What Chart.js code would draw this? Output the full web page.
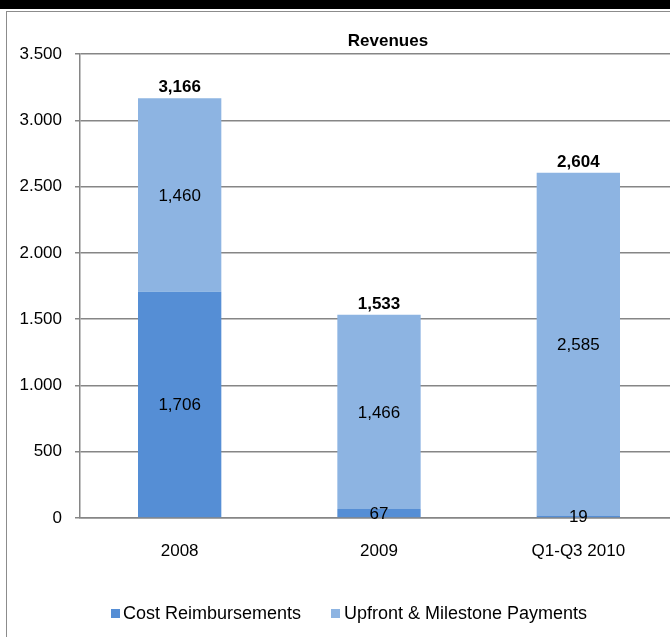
<!DOCTYPE html>
<html>
<head>
<meta charset="utf-8">
<title>Revenues</title>
<script src="https://cdn.jsdelivr.net/npm/chart.js@4/dist/chart.umd.min.js"></script>
<style>
  html, body {
    margin: 0;
    padding: 0;
    width: 670px;
    height: 637px;
    overflow: hidden;
    background: #fff;
    font-family: "Liberation Sans", Arial, sans-serif;
  }
  #topBand {
    position: absolute;
    left: 0;
    top: 0;
    width: 670px;
    height: 9px;
    background: #000;
  }
  #frame {
    position: absolute;
    left: 6px;
    top: 11px;
    width: 700px;
    height: 700px;
    border: 1px solid #8c8c8c;
  }
  #chartBox {
    position: absolute;
    left: 0;
    top: 0;
    width: 720px;
    height: 637px;
  }
  .legend-item {
    position: absolute;
    top: 603px;
    font-size: 18px;
    color: #000;
    line-height: 21px;
    white-space: nowrap;
  }
  .legend-item span.box {
    position: absolute;
    top: 6px;
    width: 9px;
    height: 9px;
  }
</style>
</head>
<body>
<div id="topBand"></div>
<div id="frame"></div>
<div id="chartBox"><canvas id="revChart" width="720" height="637"></canvas></div>

<div class="legend-item" style="left:111px;"><span class="box" style="left:0;background:#558ED5;"></span><span style="margin-left:12px;">Cost Reimbursements</span></div>
<div class="legend-item" style="left:331px;"><span class="box" style="left:0;background:#8DB4E2;"></span><span style="margin-left:13px;">Upfront &amp; Milestone Payments</span></div>

<script>
// data
const categories = ["2008", "2009", "Q1-Q3 2010"];
const costReimbursements = [1706, 67, 19];
const upfrontMilestone = [1460, 1466, 2585];
const yTicks = [0, 500, 1000, 1500, 2000, 2500, 3000, 3500];

const darkBlue = "#558ED5";
const lightBlue = "#8DB4E2";
const gridGray = "#868686";
const fontFamily = "'Liberation Sans', Arial, sans-serif";

// 1,234 style for bar labels
function commaFormat(v) {
  return String(v).replace(/\B(?=(\d{3})+(?!\d))/g, ",");
}

// 3.500 style on the axis
function dotFormat(v) {
  return String(v).replace(/\B(?=(\d{3})+(?!\d))/g, ".");
}

// draws the value inside each segment + bold totals on top
const barLabels = {
  id: "barLabels",
  afterDatasetsDraw(chart) {
    const ctx = chart.ctx;
    ctx.save();
    ctx.fillStyle = "#000";
    ctx.textAlign = "center";
    ctx.textBaseline = "middle";
    ctx.font = "17px " + fontFamily;

    chart.data.datasets.forEach((ds, di) => {
      const meta = chart.getDatasetMeta(di);
      meta.data.forEach((bar, i) => {
        const mid = (bar.y + bar.base) / 2;
        ctx.fillText(commaFormat(ds.data[i]), bar.x, mid + 1);
      });
    });

    // totals
    ctx.font = "bold 17px " + fontFamily;
    ctx.textBaseline = "bottom";
    const topMeta = chart.getDatasetMeta(chart.data.datasets.length - 1);
    categories.forEach((c, i) => {
      const total = costReimbursements[i] + upfrontMilestone[i];
      const bar = topMeta.data[i];
      ctx.fillText(commaFormat(total), bar.x, bar.y - 2);
    });

    // title
    ctx.font = "bold 17px " + fontFamily;
    ctx.textBaseline = "middle";
    ctx.fillText("Revenues", 388, 41);
    ctx.restore();
  }
};

const ctx = document.getElementById("revChart").getContext("2d");
const revChart = new Chart(ctx, {
  type: "bar",
  data: {
    labels: categories,
    datasets: [
      {
        label: "Cost Reimbursements",
        data: costReimbursements,
        backgroundColor: darkBlue,
        borderWidth: 0,
        categoryPercentage: 1,
        barPercentage: 0.418
      },
      {
        label: "Upfront & Milestone Payments",
        data: upfrontMilestone,
        backgroundColor: lightBlue,
        borderWidth: 0,
        categoryPercentage: 1,
        barPercentage: 0.418
      }
    ]
  },
  options: {
    responsive: false,
    animation: false,
    devicePixelRatio: 1,
    layout: {
      padding: { top: 54, right: 42, bottom: 0, left: 0 }
    },
    plugins: {
      legend: { display: false },
      tooltip: { enabled: false },
      title: { display: false }
    },
    scales: {
      x: {
        stacked: true,
        grid: { display: false },
        border: { display: true, color: gridGray, width: 1.5 },
        ticks: {
          color: "#000",
          padding: 15,
          font: { family: fontFamily, size: 17 }
        },
        afterFit: (scale) => { scale.height = 119; }
      },
      y: {
        stacked: true,
        min: 0,
        max: 3500,
        afterBuildTicks: (scale) => {
          scale.ticks = yTicks.map(v => ({ value: v }));
        },
        grid: {
          color: gridGray,
          lineWidth: 1.5,
          tickLength: 5,
          drawTicks: true
        },
        border: { display: true, color: gridGray, width: 1.5 },
        ticks: {
          color: "#000",
          padding: 13,
          font: { family: fontFamily, size: 17 },
          callback: (v) => dotFormat(v)
        },
        afterFit: (scale) => { scale.width = 80; }
      }
    }
  },
  plugins: [barLabels]
});
</script>
</body>
</html>
